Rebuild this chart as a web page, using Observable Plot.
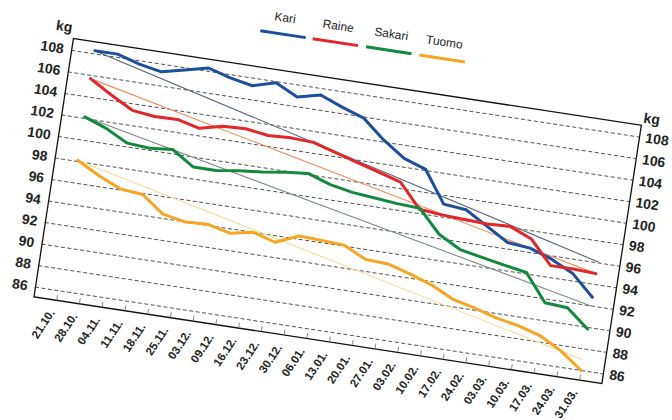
<!DOCTYPE html>
<html><head><meta charset="utf-8">
<script src="https://cdn.jsdelivr.net/npm/d3@7"></script>
<script src="https://cdn.jsdelivr.net/npm/@observablehq/plot@0.6"></script>
<style>
html,body{margin:0;padding:0;background:#fff;}
body{width:672px;height:420px;overflow:hidden;position:relative;font-family:"Liberation Sans",Arial,sans-serif;}
#fig{position:absolute;left:32.9px;top:-26.7px;transform-origin:40px 65px;transform:rotate(8.68deg);}
#legend{height:40px;width:655px;position:relative;}
#legend .row{position:absolute;left:40px;width:574.5px;top:0;display:flex;justify-content:center;}
#legend .item{width:53.7px;display:flex;flex-direction:column;align-items:center;}
#legend .lab{font-size:12px;line-height:14px;margin-top:6px;color:#222;}
#legend .sw{width:46px;height:3px;margin-top:8px;}
svg{display:block;overflow:visible;}
</style></head>
<body><div id="fig"><div id="legend"><div class="row"></div></div></div>
<script>
const dates = ["21.10.","28.10.","04.11.","11.11.","18.11.","25.11.","03.12.","09.12.","16.12.","23.12.","30.12.","06.01.","13.01.","20.01.","27.01.","03.02.","10.02.","17.02.","24.02.","03.03.","10.03.","17.03.","24.03.","31.03."];
const names = ["Kari","Raine","Sakari","Tuomo"];
const kari   = [108.3,108.3,107.7,107.3,107.8,108.3,107.7,107.3,107.9,106.9,107.4,106.6,105.9,104.2,102.8,102.1,99.2,99.0,97.8,96.6,96.4,95.7,94.7,92.8];
const raine  = [105.7,104.5,103.4,103.15,103.2,102.7,103.2,103.3,103.0,103.1,103.0,102.4,101.8,101.2,100.6,98.4,98.2,98.1,98.0,98.1,97.25,95.1,95.1,95.0];
const sakari = [102.15,101.4,100.35,100.2,100.4,99.1,99.1,99.4,99.6,99.9,100.1,99.4,99.0,98.8,98.6,98.5,96.4,95.3,94.9,94.5,94.15,91.65,91.5,89.85];
const tuomo  = [98.1,97.0,96.1,95.9,94.4,94.0,94.1,93.6,94.0,93.4,94.3,94.2,94.1,93.1,93.0,92.4,91.7,90.7,90.2,89.6,89.2,88.6,87.5,86.0];
const goalStart = [108.3,105.7,102.15,98.1];
const goalEnd   = [96.1,95.0,92.0,87.0];
const yTicks = [86,88,90,92,94,96,98,100,102,104,106,108];
const colors = ["#1d4f9c","#e3262b","#13893f","#f6a623"];
const goalColors = ["#56607c","#f08a5d","#7f8c84","#f6dc9e"];

const seriesValues = [kari, raine, sakari, tuomo];
const rows = names.flatMap((n, k) => dates.map((d, i) => ({name: n, date: d, kg: seriesValues[k][i]})));
const goals = names.map((n, k) => [
  {name: n, date: dates[0], kg: goalStart[k]},
  {name: n, date: dates[dates.length - 1], kg: goalEnd[k]}
]);

const row = document.querySelector("#legend .row");
names.forEach((n, k) => {
  const it = document.createElement("div"); it.className = "item";
  const l = document.createElement("div"); l.className = "lab"; l.textContent = n;
  const s = document.createElement("div"); s.className = "sw"; s.style.background = colors[k];
  it.append(l, s); row.append(it);
});

const chart = Plot.plot({
  width: 655, height: 336.3,
  marginLeft: 40, marginRight: 40.5, marginTop: 25, marginBottom: 50,
  style: {fontFamily: "'Liberation Sans', Arial, sans-serif", color: "#222", background: "transparent", overflow: "visible"},
  x: {type: "point", domain: dates, padding: 0.5},
  y: {domain: [85.1, 109.1]},
  color: {domain: names, range: colors},
  marks: [
    Plot.gridY(yTicks, {stroke: "#333", strokeOpacity: 1, strokeWidth: 0.8, strokeDasharray: "4,2.5"}),
    ...goals.map((g, k) => Plot.line(g, {x: "date", y: "kg", stroke: goalColors[k], strokeWidth: 1.1})),
    Plot.line(rows, {x: "date", y: "kg", z: "name", stroke: "name", strokeWidth: 3, strokeLinejoin: "round"}),
    Plot.frame({stroke: "#111", strokeWidth: 1.3}),
    Plot.axisX({tickSize: 5, dy: -5, tickFormat: () => "", label: null, stroke: "#888"}),
    Plot.axisX({tickSize: 0, tickPadding: 11, dx: -3, tickRotate: -65, fontSize: 11.5, fontWeight: "bold", label: null}),
    Plot.axisY(yTicks, {anchor: "left", tickSize: 0, tickPadding: 8, fontSize: 14, fontWeight: "bold", label: null}),
    Plot.axisY(yTicks, {anchor: "right", tickSize: 0, tickPadding: 6, fontSize: 14, fontWeight: "bold", label: null}),
    Plot.text(["kg"], {frameAnchor: "top-left", dx: -19, dy: -16, fontSize: 14, fontWeight: "bold"}),
    Plot.text(["kg"], {frameAnchor: "top-right", dx: 17.5, dy: -13, fontSize: 14, fontWeight: "bold"})
  ]
});
document.getElementById("fig").append(chart);
</script>
</body></html>
